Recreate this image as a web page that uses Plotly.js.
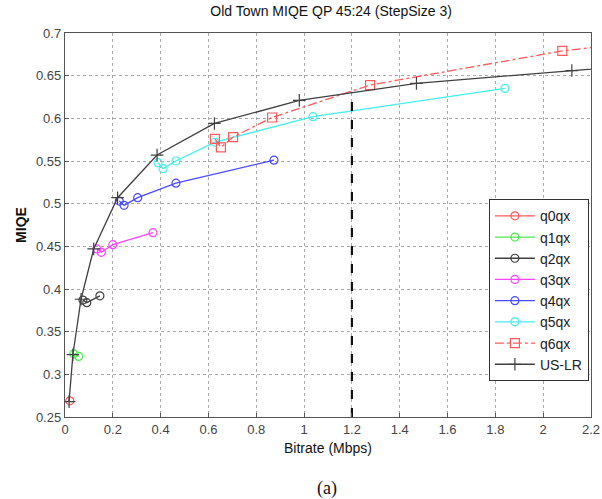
<!DOCTYPE html>
<html><head><meta charset="utf-8">
<script src="https://cdn.plot.ly/plotly-3.0.1.min.js"></script>
<style>body{margin:0;background:#fff}#g{width:602px;height:499px}</style>
</head><body><div id="g"></div>
<script>
const seriesNames = ["q0qx","q1qx","q2qx","q3qx","q4qx","q5qx","q6qx","US-LR"];
const q0x = [0.02], q0y = [0.269];
const q1x = [0.037, 0.057], q1y = [0.324, 0.321];
const q2x = [0.075, 0.091, 0.146], q2y = [0.387, 0.384, 0.392];
const q3x = [0.133, 0.152, 0.2, 0.368], q3y = [0.447, 0.443, 0.452, 0.466];
const q4x = [0.227, 0.247, 0.304, 0.464, 0.874], q4y = [0.503, 0.498, 0.507, 0.524, 0.551];
const q5x = [0.389, 0.41, 0.464, 0.627, 1.037, 1.84], q5y = [0.548, 0.541, 0.55, 0.572, 0.602, 0.635];
const q6x = [0.627, 0.652, 0.703, 0.866, 1.276, 2.08, 2.3], q6y = [0.576, 0.566, 0.578, 0.601, 0.639, 0.679, 0.686];
const uslrX = [0.017, 0.033, 0.067, 0.12, 0.22, 0.385, 0.625, 0.98, 1.47, 2.12, 2.3];
const uslrY = [0.268, 0.323, 0.388, 0.447, 0.507, 0.557, 0.594, 0.621, 0.641, 0.656, 0.66];
const markerX = [1.2, 1.2], markerY = [0.25, 0.63];
const xTicks = [0,0.2,0.4,0.6,0.8,1,1.2,1.4,1.6,1.8,2,2.2];
const yTicks = [0.25,0.3,0.35,0.4,0.45,0.5,0.55,0.6,0.65,0.7];

const colors = ["#ff5a5a","#4ee84e","#404040","#ff44ff","#4a4aff","#44f0f0","#ff5a5a","#404040"];
const xs = [q0x,q1x,q2x,q3x,q4x,q5x,q6x,uslrX];
const ys = [q0y,q1y,q2y,q3y,q4y,q5y,q6y,uslrY];
const traces = [];
for (let i = 0; i < 8; i++) {
  const t = {x: xs[i], y: ys[i], name: seriesNames[i], type: 'scatter', mode: 'lines+markers',
    line: {color: colors[i], width: 1.3},
    marker: {symbol: 'circle-open', size: 8, color: colors[i], line: {width: 1.2, color: colors[i]}}};
  if (i === 6) { t.line.dash = 'dashdot'; t.marker.symbol = 'square-open'; t.marker.size = 9; }
  if (i === 7) { t.marker.symbol = 'cross-thin-open'; t.marker.size = 9; }
  traces.push(t);
}
traces.push({x: markerX, y: markerY, type: 'scatter', mode: 'lines', showlegend: false,
  line: {color: '#111', width: 2.2, dash: 'dash'}, hoverinfo: 'skip'});

const axisCommon = {showline: true, mirror: true, linecolor: '#555', linewidth: 1.2,
  ticks: 'inside', ticklen: 4, tickcolor: '#555', showgrid: true, gridcolor: '#aaa',
  griddash: 'dot', gridwidth: 1, zeroline: false,
  tickfont: {family: 'Liberation Sans, Arial', size: 13, color: '#444'}};

const layout = {
  width: 602, height: 499, paper_bgcolor: '#fff', plot_bgcolor: '#fff',
  margin: {l: 65, r: 11, t: 33, b: 82},
  title: {text: 'Old Town MIQE QP 45:24 (StepSize 3)', x: 0.55, xanchor: 'center', y: 0.988, yanchor: 'top',
    font: {family: 'Liberation Sans, Arial', size: 14, color: '#111'}},
  xaxis: Object.assign({}, axisCommon, {range: [0, 2.2], tickvals: xTicks,
    ticktext: xTicks.map(String),
    title: {text: 'Bitrate (Mbps)', standoff: 7, font: {family: 'Liberation Sans, Arial', size: 14, color: '#111'}}}),
  yaxis: Object.assign({}, axisCommon, {range: [0.25, 0.7], tickvals: yTicks,
    ticktext: yTicks.map(v => String(v)),
    title: {text: '<b>MIQE</b>', standoff: 6, font: {family: 'Liberation Sans, Arial', size: 14, color: '#111'}}}),
  legend: {x: 0.996, xanchor: 'right', y: 0.567, yanchor: 'top', bgcolor: '#fff',
    bordercolor: '#333', borderwidth: 1, tracegroupgap: 0, itemwidth: 40,
    font: {family: 'Liberation Sans, Arial', size: 14, color: '#222'}},
  annotations: [{text: '(a)', xref: 'paper', yref: 'paper', x: 0.498, y: -0.185, xanchor: 'center', yanchor: 'middle',
    showarrow: false, font: {family: 'Liberation Serif, Times New Roman', size: 18, color: '#111'}}]
};
Plotly.newPlot('g', traces, layout, {displayModeBar: false, staticPlot: true});
</script></body></html>
